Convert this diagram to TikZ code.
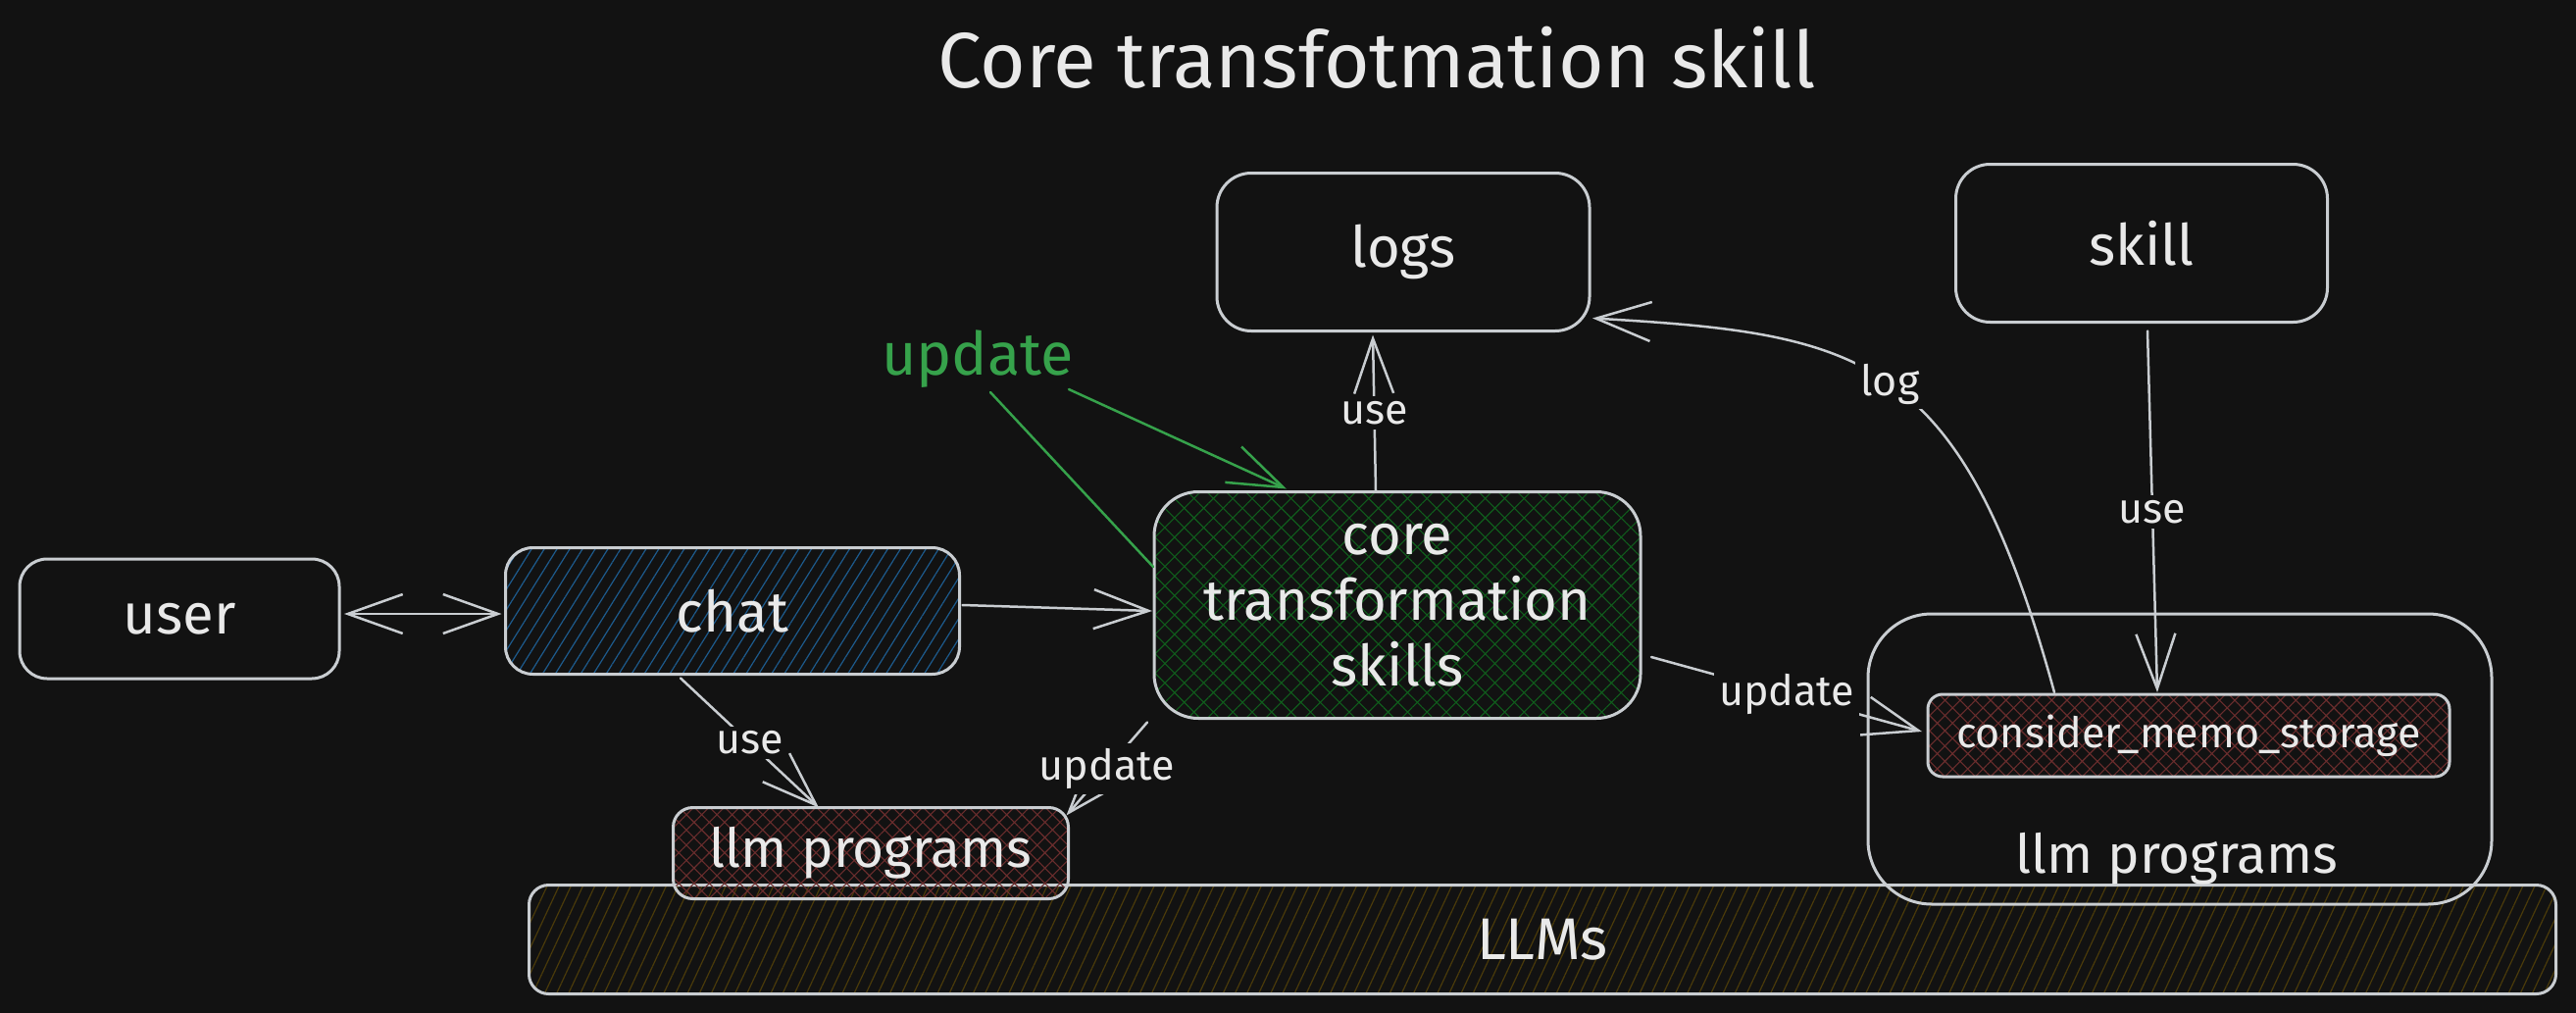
\documentclass[tikz,border=0pt]{standalone}
\usepackage{fontspec}
\setmainfont{Fira Sans}
\usetikzlibrary{arrows.meta,patterns.meta,calc}
\definecolor{bg}{HTML}{121212}
\definecolor{stroke}{HTML}{C9CDD1}
\definecolor{txt}{HTML}{E9E9E9}
\definecolor{ugreen}{HTML}{36A24B}
\definecolor{hblue}{HTML}{1D5A8C}
\definecolor{hgreen}{HTML}{105C1C}
\definecolor{hred}{HTML}{6A2D2D}
\definecolor{holive}{HTML}{4A3A0A}
\newcommand\fsz[2]{\fontsize{#1pt}{#2pt}\selectfont}
\begin{document}
\begin{tikzpicture}[x=1pt,y=-1pt,
  box/.style={draw=stroke, line width=3pt, text=txt, align=center, inner sep=0pt, outer sep=0pt},
  nlabel/.style={font=\fsz{58}{67}},
  conn/.style={draw=stroke, line width=2.5pt, line cap=round, line join=round},
  arr/.style={-{Straight Barb[length=56pt,width=40pt]}},
  darr/.style={{Straight Barb[length=56pt,width=40pt]}-{Straight Barb[length=56pt,width=40pt]}},
  elabel/.style={fill=bg, text=txt, font=\fsz{43}{50}, inner sep=5pt},
  hlines/.style={pattern={Lines[angle=#1,distance=11pt,line width=1.2pt]}},
  hcross/.style={pattern={Hatch[angle=45,distance=#1,line width=1.1pt]}},
]
\fill[bg] (0,0) rectangle (2627,1033);
\useasboundingbox (0,0) rectangle (2627,1033);

% LLMs bar (behind)
\node[box, rounded corners=20pt, minimum width=2067pt, minimum height=111pt,
      hlines=65, pattern color=holive, font=\fsz{60}{70}] (llms) at (1573,958) {LLMs};

% title
\node[text=txt, font=\fsz{80}{90}] (title) at (1404,59) {Core transfotmation skill};

% boxes
\node[box, rounded corners=28pt, minimum width=326pt, minimum height=122pt, nlabel] (user) at (183,631) {user};
\node[box, rounded corners=28pt, minimum width=463pt, minimum height=129pt, nlabel,
      hlines=58, pattern color=hblue] (chat) at (747,623) {chat};
\node[box, rounded corners=35pt, minimum width=380pt, minimum height=161pt, nlabel] (logs) at (1431,257) {logs};
\node[box, rounded corners=35pt, minimum width=379pt, minimum height=161pt, nlabel] (skill) at (2184,248) {skill};
\node[box, rounded corners=45pt, minimum width=496pt, minimum height=231pt, nlabel,
      hcross=14pt, pattern color=hgreen] (core) at (1425,617) {core\\transformation\\skills};
\node[box, rounded corners=20pt, minimum width=403pt, minimum height=93pt, font=\fsz{55}{64},
      hcross=11pt, pattern color=hred] (llmp) at (888,870) {llm programs};
\node[box, rounded corners=65pt, minimum width=636pt, minimum height=296pt] (cont) at (2223,774) {};
\node[text=txt, font=\fsz{55}{64}, inner sep=0pt] (contlbl) at (2220,876) {llm programs};
\node[box, rounded corners=15pt, minimum width=532pt, minimum height=84pt, font=\fsz{43}{50},
      hcross=11pt, pattern color=hred] (cons) at (2232,750) {consider\_memo\_storage};

% connectors
\draw[conn, darr] ($(user.east)+(5,-5)$) -- ($(chat.west)+(-4,3)$);
\draw[conn, arr] ($(chat.east)+(3,-6)$) -- ($(core.west)+(-2,6)$);
\draw[conn, arr] ($(chat.south)+(-53,4)$) -- node[elabel]{use} ($(llmp.north)+(-53,0)$);
\draw[conn, arr] ($(core.south west)+(-7,4)$) -- node[elabel]{update} ($(llmp.north east)+(-2,8)$);
\draw[conn, arr] ($(core.north)+(-22,-1)$) -- node[elabel]{use} ($(logs.south)+(-31,4)$);
\draw[conn, arr] ($(core.east)+(11,53)$) -- node[elabel]{update} ($(cons.west)+(-6,-4)$);
\draw[conn, arr] ($(skill.south)+(6,9)$) -- node[elabel]{use} ($(cons.north)+(-32,-2)$);
\draw[conn, arr] ($(cons.north)+(-137,-2)$) .. controls +(-95,-346) and +(276,16) ..
      node[elabel, pos=0.5]{log} ($(logs.south east)+(3,-13)$);

% green update
\node[text=ugreen, font=\fsz{61}{70}, inner sep=0pt] (gupd) at (997,366) {update};
\draw[conn, draw=ugreen] ($(core.west)+(-1,-39)$) -- ($(gupd.center)+(13,34)$);
\draw[conn, draw=ugreen, arr] ($(gupd.center)+(93,31)$) -- ($(core.north)+(-113,-3)$);
\end{tikzpicture}
\end{document}
